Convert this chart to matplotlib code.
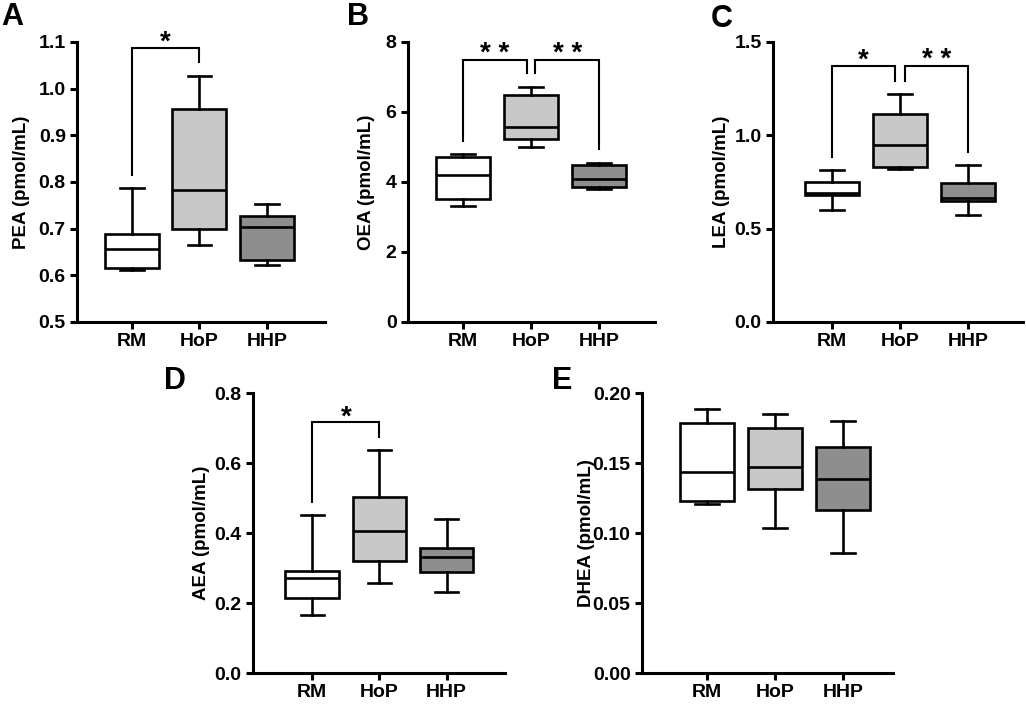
import matplotlib
matplotlib.use("Agg")
import matplotlib.pyplot as plt

plt.rcParams['font.family'] = ['Liberation Sans', 'DejaVu Sans']
plt.rcParams['font.weight'] = 'bold'

groups = ["RM", "HoP", "HHP"]
colors = ["#ffffff", "#c8c8c8", "#8e8e8e"]

# min, q1, median, q3, max for RM, HoP, HHP
pea = [[0.611, 0.616, 0.656, 0.688, 0.786],
       [0.664, 0.699, 0.783, 0.956, 1.026],
       [0.621, 0.633, 0.704, 0.728, 0.752]]
oea = [[3.32, 3.51, 4.21, 4.70, 4.79],
       [5.00, 5.24, 5.56, 6.49, 6.71],
       [3.79, 3.86, 4.09, 4.49, 4.54]]
lea = [[0.598, 0.678, 0.689, 0.750, 0.813],
       [0.818, 0.832, 0.947, 1.113, 1.221],
       [0.573, 0.650, 0.662, 0.745, 0.841]]
aea = [[0.167, 0.215, 0.271, 0.293, 0.451],
       [0.257, 0.322, 0.408, 0.505, 0.638],
       [0.233, 0.289, 0.333, 0.358, 0.440]]
dhea = [[0.1212, 0.123, 0.1437, 0.179, 0.189],
        [0.1038, 0.132, 0.1477, 0.175, 0.185],
        [0.0857, 0.117, 0.139, 0.162, 0.180]]

# brackets: x_left, x_right, y_left_end, y_top, y_right_end, star height, label
br_a = [(0, 1, 0.814, 1.087, 1.056, 1.118, "*")]
br_b = [(0, 0.94, 5.16, 7.49, 7.10, 7.92, "* *"),
        (1.06, 2, 7.10, 7.49, 4.94, 7.92, "* *")]
br_c = [(0, 0.93, 0.886, 1.369, 1.292, 1.45, "*"),
        (1.07, 2, 1.292, 1.369, 0.909, 1.45, "* *")]
br_d = [(0, 1, 0.490, 0.717, 0.676, 0.757, "*")]

panels = [
    dict(letter="A", data=pea, label="PEA (pmol/mL)", ticks=[0.5, 0.6, 0.7, 0.8, 0.9, 1.0, 1.1],
         fmt="{:.1f}", rect=[0.0750, 0.544, 0.2417, 0.3966], xlim=(-0.815, 2.86),
         lab_x=-0.19, br=br_a, let_xy=(1, 2)),
    dict(letter="B", data=oea, label="OEA (pmol/mL)", ticks=[0, 2, 4, 6, 8],
         fmt="{:.0f}", rect=[0.3974, 0.544, 0.2410, 0.3966], xlim=(-0.813, 2.82),
         lab_x=-0.132, br=br_b, let_xy=(347, 2)),
    dict(letter="C", data=lea, label="LEA (pmol/mL)", ticks=[0.0, 0.5, 1.0, 1.5],
         fmt="{:.1f}", rect=[0.7531, 0.544, 0.2440, 0.3966], xlim=(-0.868, 2.81),
         lab_x=-0.171, br=br_c, let_xy=(711, 4)),
    dict(letter="D", data=aea, label="AEA (pmol/mL)", ticks=[0.0, 0.2, 0.4, 0.6, 0.8],
         fmt="{:.1f}", rect=[0.2463, 0.0463, 0.2459, 0.3966], xlim=(-0.887, 2.87),
         lab_x=-0.169, br=br_d, let_xy=(164, 366)),
    dict(letter="E", data=dhea, label="DHEA (pmol/mL)", ticks=[0.00, 0.05, 0.10, 0.15, 0.20],
         fmt="{:.2f}", rect=[0.6254, 0.0463, 0.2449, 0.3966], xlim=(-0.969, 2.74),
         lab_x=-0.186, br=[], let_xy=(552, 366)),
]

W, H = 1026, 706
fig = plt.figure(figsize=(W / 100, H / 100), dpi=100)

for p in panels:
    ax = fig.add_axes(p["rect"])
    stats = [dict(whislo=d[0], q1=d[1], med=d[2], q3=d[3], whishi=d[4], label=g)
             for d, g in zip(p["data"], groups)]
    bp = ax.bxp(stats, positions=range(3), widths=0.8, capwidths=0.35,
                showfliers=False, patch_artist=True,
                boxprops=dict(linewidth=1.9, edgecolor="black"),
                medianprops=dict(linewidth=1.9, color="black"),
                whiskerprops=dict(linewidth=1.9, color="black"),
                capprops=dict(linewidth=1.9, color="black"))
    for patch, c in zip(bp["boxes"], colors):
        patch.set_facecolor(c)

    ax.set_xlim(*p["xlim"])
    ax.set_ylim(p["ticks"][0], p["ticks"][-1])
    ax.set_yticks(p["ticks"])
    ax.set_yticklabels([p["fmt"].format(t) for t in p["ticks"]])
    ax.set_xticks(range(3))
    ax.set_xticklabels(groups)
    for s in ["top", "right"]:
        ax.spines[s].set_visible(False)
    for s in ["left", "bottom"]:
        ax.spines[s].set_linewidth(2.2)
    ax.tick_params(axis="both", length=5, width=2.2, labelsize=14, pad=3)
    for t in ax.get_xticklabels() + ax.get_yticklabels():
        t.set_fontweight("bold")
    ax.set_ylabel(p["label"], fontsize=13.5, fontweight="bold")
    ax.yaxis.set_label_coords(p["lab_x"], 0.5)

    for x1, x2, yl, yt, yr, ys, txt in p["br"]:
        ax.plot([x1, x1, x2, x2], [yl, yt, yt, yr], color="black", lw=1.5,
                clip_on=False, solid_joinstyle="miter")
        ax.annotate(txt, ((x1 + x2) / 2, ys), xytext=(0, -11.5),
                    textcoords="offset points", ha="center", va="baseline",
                    fontsize=20, fontweight="bold", annotation_clip=False)

    lx, ly = p["let_xy"]
    fig.text(lx / W, 1 - ly / H, p["letter"], ha="left", va="top",
             fontsize=22, fontweight="bold")

fig.savefig("out.png", dpi=100)
